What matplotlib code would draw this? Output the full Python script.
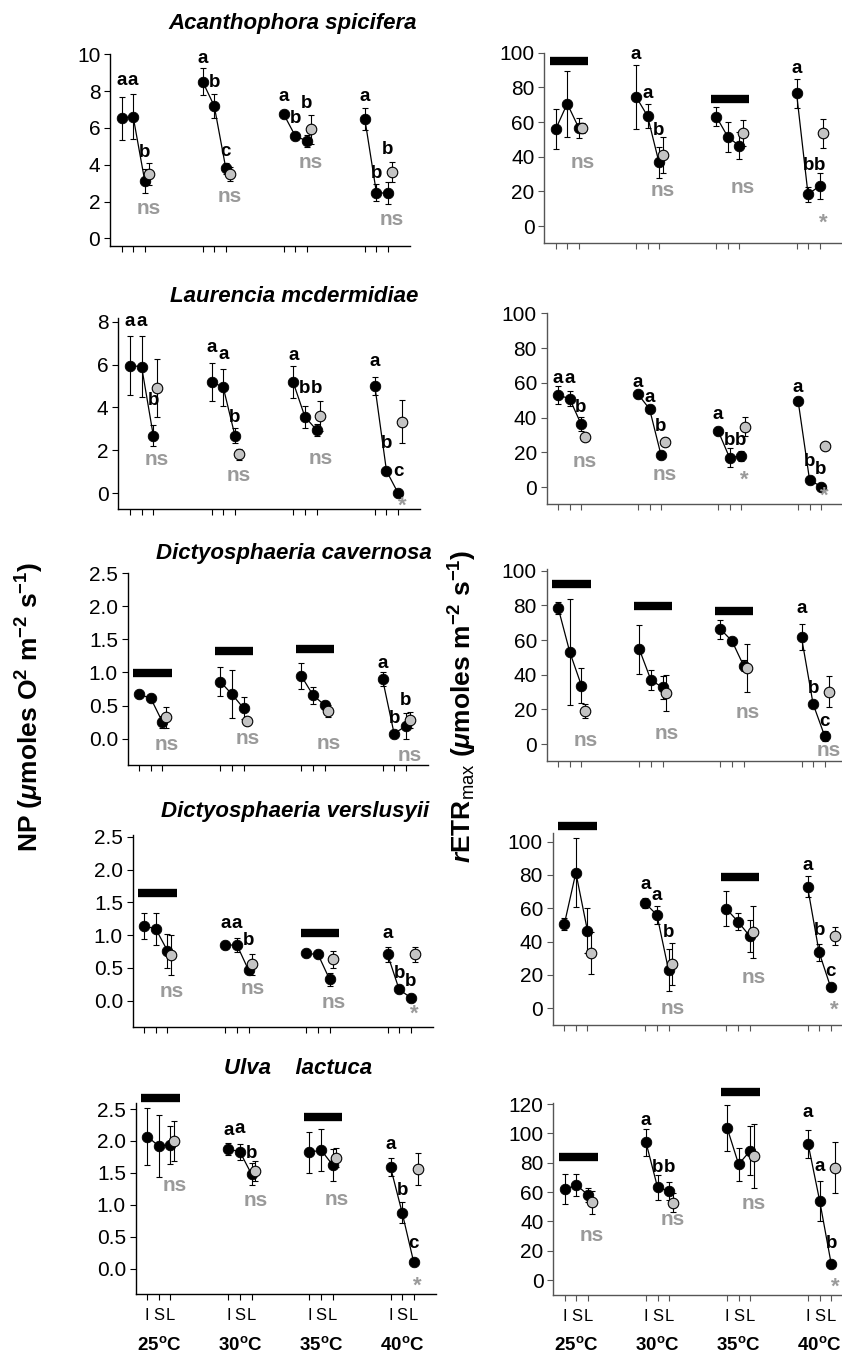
import matplotlib
matplotlib.use('Agg')
import matplotlib.pyplot as plt
import matplotlib.transforms as mtransforms
import numpy as np

plt.rcParams['font.family'] = ['Liberation Sans', 'DejaVu Sans']
plt.rcParams['mathtext.fontset'] = 'custom'
plt.rcParams['mathtext.rm'] = 'Liberation Sans'
plt.rcParams['mathtext.it'] = 'Liberation Sans:italic:bold'
plt.rcParams['mathtext.bf'] = 'Liberation Sans:bold'

# ---------------- data ----------------
temperatures = ['25', '30', '35', '40']
levels = ['I', 'S', 'L']
species = ['Acanthophora spicifera', 'Laurencia mcdermidiae', 'Dictyosphaeria cavernosa',
           'Dictyosphaeria verslusyii', 'Ulva    lactuca']

# Acanthophora spicifera
AS_np_mean = [[6.52, 6.61, 3.12], [8.51, 7.19, 3.80], [6.74, 5.56, 5.29], [6.49, 2.48, 2.45]]
AS_np_err = [[1.18, 1.22, 0.67], [0.73, 0.63, 0.30], [0.10, 0.10, 0.35], [0.60, 0.45, 0.60]]
AS_np_gray = [3.48, 3.50, 5.92, 3.62]
AS_np_gray_err = [0.60, 0.40, 0.78, 0.55]
AS_np_letters = [['a', 'a', 'b'], ['a', 'b', 'c'], ['a', 'b', 'b'], ['a', 'b', 'b']]
AS_np_letter_y = [[8.6, 8.6, 4.65], [9.78, 8.46, 4.71], [7.70, 6.52, 7.30], [7.70, 3.53, 4.80]]
AS_np_sig = ['ns', 'ns', 'ns', 'ns']
AS_np_sig_y = [1.63, 2.26, 4.13, 1.03]
AS_np_bar_groups = []
AS_np_bar_y = []

AS_etr_mean = [[56.0, 70.6, 56.7], [74.6, 63.5, 36.7], [63.1, 51.5, 46.3], [76.5, 18.3, 23.1]]
AS_etr_err = [[11.4, 19.0, 5.8], [18.5, 7.0, 9.0], [5.3, 8.6, 7.8], [8.3, 4.5, 7.5]]
AS_etr_gray = [56.7, 40.8, 53.8, 53.5]
AS_etr_gray_err = [3.0, 10.4, 7.5, 8.5]
AS_etr_letters = [['', '', ''], ['a', 'a', 'b'], ['', '', ''], ['a', 'b', 'b']]
AS_etr_letter_y = [[0, 0, 0], [99.2, 76.5, 55.4], [0, 0, 0], [91.0, 35.2, 35.2]]
AS_etr_sig = ['ns', 'ns', 'ns', '*']
AS_etr_sig_y = [36.7, 20.4, 22.1, 1.9]
AS_etr_bar_groups = [0, 2]
AS_etr_bar_y = [95.2, 73.4]

# Laurencia mcdermidiae
LM_np_mean = [[5.95, 5.90, 2.69], [5.20, 4.94, 2.69], [5.17, 3.57, 2.95], [5.00, 1.04, 0.00]]
LM_np_err = [[1.36, 1.41, 0.49], [0.88, 0.87, 0.34], [0.75, 0.52, 0.30], [0.40, 0.05, 0.05]]
LM_np_gray = [4.92, 1.82, 3.60, 3.34]
LM_np_gray_err = [1.36, 0.25, 0.70, 1.00]
LM_np_letters = [['a', 'a', 'b'], ['a', 'a', 'b'], ['a', 'b', 'b'], ['a', 'b', 'c']]
LM_np_letter_y = [[8.0, 8.0, 4.32], [6.80, 6.49, 3.52], [6.44, 4.89, 4.89], [6.13, 2.30, 1.01]]
LM_np_sig = ['ns', 'ns', 'ns', '*']
LM_np_sig_y = [1.58, 0.81, 1.63, -0.62]
LM_np_bar_groups = []
LM_np_bar_y = []

LM_etr_mean = [[52.9, 51.0, 36.4], [53.4, 45.0, 18.6], [32.4, 17.0, 18.0], [49.6, 4.2, 0.4]]
LM_etr_err = [[5.1, 4.5, 3.8], [2.0, 2.0, 2.0], [2.0, 5.5, 3.0], [2.0, 2.0, 1.0]]
LM_etr_gray = [29.1, 26.2, 34.9, 23.9]
LM_etr_gray_err = [2.0, 2.0, 5.2, 2.0]
LM_etr_letters = [['a', 'a', 'b'], ['a', 'a', 'b'], ['a', 'b', 'b'], ['a', 'b', 'b']]
LM_etr_letter_y = [[62.6, 62.6, 46.0], [60.3, 51.7, 34.9], [42.1, 26.6, 26.6], [57.5, 14.8, 10.0]]
LM_etr_sig = ['ns', 'ns', '*', '*']
LM_etr_sig_y = [14.8, 7.1, 3.8, -5.0]
LM_etr_bar_groups = []
LM_etr_bar_y = []

# Dictyosphaeria cavernosa
DC_np_mean = [[0.672, 0.606, 0.25], [0.86, 0.67, 0.46], [0.944, 0.657, 0.505], [0.90, 0.076, 0.187]]
DC_np_err = [[0.03, 0.03, 0.09], [0.22, 0.36, 0.17], [0.20, 0.13, 0.06], [0.10, 0.02, 0.20]]
DC_np_gray = [0.32, 0.26, 0.414, 0.278]
DC_np_gray_err = [0.16, 0.02, 0.09, 0.12]
DC_np_letters = [['', '', ''], ['', '', ''], ['', '', ''], ['a', 'b', 'b']]
DC_np_letter_y = [[0, 0, 0], [0, 0, 0], [0, 0, 0], [1.13, 0.31, 0.57]]
DC_np_sig = ['ns', 'ns', 'ns', 'ns']
DC_np_sig_y = [-0.09, 0.0, -0.08, -0.25]
DC_np_bar_groups = [0, 1, 2]
DC_np_bar_y = [0.99, 1.33, 1.36]

DC_etr_mean = [[78.3, 52.9, 33.7], [54.6, 36.9, 32.7], [66.3, 59.4, 45.2], [61.5, 23.1, 4.6]]
DC_etr_err = [[3.5, 30.6, 9.9], [14.0, 6.0, 6.6], [5.5, 2.0, 3.0], [7.5, 2.0, 3.0]]
DC_etr_gray = [19.2, 29.6, 44.0, 30.2]
DC_etr_gray_err = [4.0, 10.4, 14.0, 9.0]
DC_etr_letters = [['', '', ''], ['', '', ''], ['', '', ''], ['a', 'b', 'c']]
DC_etr_letter_y = [[0, 0, 0], [0, 0, 0], [0, 0, 0], [78.3, 32.1, 12.9]]
DC_etr_sig = ['ns', 'ns', 'ns', 'ns']
DC_etr_sig_y = [2.3, 6.2, 18.3, -3.5]
DC_etr_bar_groups = [0, 1, 2]
DC_etr_bar_y = [92.1, 79.8, 76.9]

# Dictyosphaeria verslusyii
DV_np_mean = [[1.143, 1.092, 0.762], [0.849, 0.849, 0.467], [0.72, 0.706, 0.325], [0.706, 0.173, 0.046]]
DV_np_err = [[0.20, 0.24, 0.26], [0.03, 0.10, 0.05], [0.02, 0.02, 0.10], [0.12, 0.02, 0.02]]
DV_np_gray = [0.696, 0.559, 0.63, 0.706]
DV_np_gray_err = [0.30, 0.16, 0.13, 0.12]
DV_np_letters = [['', '', ''], ['a', 'a', 'b'], ['', '', ''], ['a', 'b', 'b']]
DV_np_letter_y = [[0, 0, 0], [1.17, 1.17, 0.92], [0, 0, 0], [1.03, 0.42, 0.29]]
DV_np_sig = ['ns', 'ns', 'ns', '*']
DV_np_sig_y = [0.14, 0.19, -0.03, -0.20]
DV_np_bar_groups = [0, 2]
DV_np_bar_y = [1.636, 1.026]

DV_etr_mean = [[50.4, 81.4, 46.6], [63.0, 56.0, 23.0], [59.6, 52.0, 43.4], [73.0, 33.6, 12.6]]
DV_etr_err = [[3.6, 20.5, 13.4], [3.0, 5.4, 12.6], [10.5, 5.0, 9.5], [6.4, 5.0, 1.0]]
DV_etr_gray = [33.0, 26.4, 46.0, 43.4]
DV_etr_gray_err = [12.6, 12.6, 15.6, 5.5]
DV_etr_letters = [['', '', ''], ['a', 'a', 'b'], ['', '', ''], ['a', 'b', 'c']]
DV_etr_letter_y = [[0, 0, 0], [74.4, 67.4, 45.4], [0, 0, 0], [85.4, 46.4, 22.0]]
DV_etr_sig = ['', 'ns', 'ns', '*']
DV_etr_sig_y = [0, 0.0, 18.4, -1.0]
DV_etr_bar_groups = [0, 2]
DV_etr_bar_y = [109.4, 78.6]

# Ulva lactuca
UL_np_mean = [[2.07, 1.92, 1.94], [1.875, 1.83, 1.48], [1.82, 1.86, 1.625], [1.59, 0.88, 0.104]]
UL_np_err = [[0.45, 0.49, 0.30], [0.10, 0.12, 0.17], [0.32, 0.33, 0.25], [0.14, 0.16, 0.03]]
UL_np_gray = [2.0, 1.53, 1.74, 1.56]
UL_np_gray_err = [0.32, 0.15, 0.15, 0.245]
UL_np_letters = [['', '', ''], ['a', 'a', 'b'], ['', '', ''], ['a', 'b', 'c']]
UL_np_letter_y = [[0, 0, 0], [2.17, 2.20, 1.81], [0, 0, 0], [1.94, 1.23, 0.40]]
UL_np_sig = ['ns', 'ns', 'ns', '*']
UL_np_sig_y = [1.30, 1.07, 1.08, -0.28]
UL_np_bar_groups = [0, 2]
UL_np_bar_y = [2.67, 2.37]

UL_etr_mean = [[61.8, 64.8, 58.0], [93.9, 63.2, 60.7], [103.9, 78.9, 88.2], [92.7, 53.9, 10.7]]
UL_etr_err = [[10.2, 7.2, 5.0], [9.3, 8.5, 6.4], [15.6, 11.4, 16.5], [9.5, 13.6, 2.0]]
UL_etr_gray = [53.0, 52.7, 84.5, 76.6]
UL_etr_gray_err = [8.0, 6.6, 21.7, 17.6]
UL_etr_letters = [['', '', ''], ['a', 'b', 'b'], ['', '', ''], ['a', 'a', 'b']]
UL_etr_letter_y = [[0, 0, 0], [108.6, 76.8, 76.8], [0, 0, 0], [114.0, 77.7, 25.0]]
UL_etr_sig = ['ns', 'ns', 'ns', '*']
UL_etr_sig_y = [30.7, 41.4, 52.3, -5.0]
UL_etr_bar_groups = [0, 2]
UL_etr_bar_y = [83.6, 128.0]

# ---------------- layout (pixels) ----------------
W, H = 842, 1356
fig = plt.figure(figsize=(W / 100, H / 100), dpi=100)

GROUP_STEP = 7
GRAY_OFF = 0.33
XLIM = (-1.0, 24.9)
GRAY_FILL = '#c4c4c4'
SIG_COLOR = '#9a9a9a'

left_boxes = [
    (110.0, 300, 54.3, 245.7, (-0.4, 10.0), np.arange(0, 11, 2), '{:.0f}'),
    (118.3, 302, 318.0, 509.3, (-0.75, 8.17), np.arange(0, 9, 2), '{:.0f}'),
    (127.7, 300, 573.3, 765.0, (-0.4, 2.5), np.arange(0, 2.51, 0.5), '{:.1f}'),
    (132.7, 300, 835.0, 1027.3, (-0.405, 2.526), np.arange(0, 2.51, 0.5), '{:.1f}'),
    (135.7, 300, 1103.3, 1294.3, (-0.4, 2.59), np.arange(0, 2.51, 0.5), '{:.1f}'),
]
right_boxes = [
    (544.3, 297, 52.7, 242.7, (-9.6, 100), np.arange(0, 101, 20), '{:.0f}'),
    (546.7, 296, 313.3, 504.3, (-9.8, 100), np.arange(0, 101, 20), '{:.0f}'),
    (546.7, 300, 569.3, 760.7, (-9.6, 100.8), np.arange(0, 101, 20), '{:.0f}'),
    (552.7, 300, 833.3, 1025.0, (-10, 105), np.arange(0, 101, 20), '{:.0f}'),
    (553.3, 300, 1103.0, 1295.0, (-10.2, 120.7), np.arange(0, 121, 20), '{:.0f}'),
]

np_sets = [
    (AS_np_mean, AS_np_err, AS_np_gray, AS_np_gray_err, AS_np_letters, AS_np_letter_y, AS_np_sig, AS_np_sig_y, AS_np_bar_groups, AS_np_bar_y),
    (LM_np_mean, LM_np_err, LM_np_gray, LM_np_gray_err, LM_np_letters, LM_np_letter_y, LM_np_sig, LM_np_sig_y, LM_np_bar_groups, LM_np_bar_y),
    (DC_np_mean, DC_np_err, DC_np_gray, DC_np_gray_err, DC_np_letters, DC_np_letter_y, DC_np_sig, DC_np_sig_y, DC_np_bar_groups, DC_np_bar_y),
    (DV_np_mean, DV_np_err, DV_np_gray, DV_np_gray_err, DV_np_letters, DV_np_letter_y, DV_np_sig, DV_np_sig_y, DV_np_bar_groups, DV_np_bar_y),
    (UL_np_mean, UL_np_err, UL_np_gray, UL_np_gray_err, UL_np_letters, UL_np_letter_y, UL_np_sig, UL_np_sig_y, UL_np_bar_groups, UL_np_bar_y),
]
etr_sets = [
    (AS_etr_mean, AS_etr_err, AS_etr_gray, AS_etr_gray_err, AS_etr_letters, AS_etr_letter_y, AS_etr_sig, AS_etr_sig_y, AS_etr_bar_groups, AS_etr_bar_y),
    (LM_etr_mean, LM_etr_err, LM_etr_gray, LM_etr_gray_err, LM_etr_letters, LM_etr_letter_y, LM_etr_sig, LM_etr_sig_y, LM_etr_bar_groups, LM_etr_bar_y),
    (DC_etr_mean, DC_etr_err, DC_etr_gray, DC_etr_gray_err, DC_etr_letters, DC_etr_letter_y, DC_etr_sig, DC_etr_sig_y, DC_etr_bar_groups, DC_etr_bar_y),
    (DV_etr_mean, DV_etr_err, DV_etr_gray, DV_etr_gray_err, DV_etr_letters, DV_etr_letter_y, DV_etr_sig, DV_etr_sig_y, DV_etr_bar_groups, DV_etr_bar_y),
    (UL_etr_mean, UL_etr_err, UL_etr_gray, UL_etr_gray_err, UL_etr_letters, UL_etr_letter_y, UL_etr_sig, UL_etr_sig_y, UL_etr_bar_groups, UL_etr_bar_y),
]


def add_axes_px(x0, w, ytop, ybot):
    return fig.add_axes([x0 / W, 1 - ybot / H, w / W, (ybot - ytop) / H])


def draw_panel(ax, data, box, spine_color, bottom_row):
    mean, err, gray, gray_err, letters, letter_y, sig, sig_y, bar_groups, bar_y = data
    x0, w, ytop, ybot, ylim, yticks, fmt = box
    for g in range(4):
        xs = g * GROUP_STEP + np.arange(3)
        ax.errorbar(xs, mean[g], yerr=err[g], fmt='none', ecolor='black',
                    elinewidth=0.8, capsize=2.3, capthick=0.8, zorder=1)
        ax.plot(xs, mean[g], color='black', lw=0.9, zorder=2)
        ax.plot(xs, mean[g], 'o', ms=7.6, mfc='black', mec='black', mew=0.6, zorder=3)
        xg = g * GROUP_STEP + 2 + GRAY_OFF
        ax.errorbar([xg], [gray[g]], yerr=[gray_err[g]], fmt='none', ecolor='black',
                    elinewidth=0.8, capsize=2.3, capthick=0.8, zorder=3.5)
        ax.plot([xg], [gray[g]], 'o', ms=7.6, mfc=GRAY_FILL, mec='black', mew=0.8, zorder=4)
        for k in range(3):
            if letters[g][k]:
                ax.text(xs[k], letter_y[g][k], letters[g][k], ha='center', va='center',
                        fontsize=13.5, fontweight='bold', color='black', zorder=5)
        if sig[g]:
            ax.text(xg, sig_y[g], sig[g], ha='center', va='center',
                    fontsize=15 if sig[g] == 'ns' else 16, fontweight='bold', color=SIG_COLOR, zorder=5)
    for g, yb in zip(bar_groups, bar_y):
        ax.plot([g * GROUP_STEP - 0.5, g * GROUP_STEP + 2.85], [yb, yb], color='black',
                lw=6.0, solid_capstyle='butt', clip_on=False, zorder=5)

    ax.set_xlim(*XLIM)
    ax.set_ylim(*ylim)
    ax.set_yticks(yticks)
    ax.set_yticklabels([fmt.format(v) for v in yticks])
    xt = [g * GROUP_STEP + k for g in range(4) for k in range(3)]
    ax.set_xticks(xt)
    if bottom_row:
        ax.set_xticklabels(levels * 4, fontsize=12)
    else:
        ax.set_xticklabels([])
    for s in ['top', 'right']:
        ax.spines[s].set_visible(False)
    for s in ['left', 'bottom']:
        ax.spines[s].set_color(spine_color)
        ax.spines[s].set_linewidth(1.0)
    ax.tick_params(axis='both', direction='out', length=4, width=0.8, colors=spine_color,
                   labelcolor='black')
    ax.tick_params(axis='y', labelsize=15, pad=3)
    ax.tick_params(axis='x', pad=6)
    ax.patch.set_alpha(0)
    if bottom_row:
        trans = mtransforms.blended_transform_factory(ax.transData, fig.transFigure)
        for g, t in enumerate(temperatures):
            ax.text(g * GROUP_STEP + 1.0, 1 - 1345 / H, t + r'$^{\mathbf{o}}$C', transform=trans,
                    ha='center', va='center', fontsize=13.5, fontweight='bold')


for i in range(5):
    axl = add_axes_px(*left_boxes[i][:4])
    draw_panel(axl, np_sets[i], left_boxes[i], 'black', i == 4)
    axr = add_axes_px(*right_boxes[i][:4])
    draw_panel(axr, etr_sets[i], right_boxes[i], '#555555', i == 4)

# titles
title_pos = [(293, 23), (294, 296), (294, 553), (295, 812), (298, 1068)]
for name, (tx, ty) in zip(species, title_pos):
    fig.text(tx / W, 1 - ty / H, name, ha='center', va='center', fontsize=16,
             fontweight='bold', fontstyle='italic')

# y labels
fig.text(30 / W, 1 - 707 / H,
         r'NP ($\mathit{\mu}$moles O$^{\mathbf{2}}$ m$^{\mathbf{-2}}$ s$^{\mathbf{-1}}$)',
         rotation=90, ha='center', va='center', fontsize=19, fontweight='bold')
fig.text(463 / W, 1 - 706 / H,
         r'$\mathit{r}$ET$\mathbf{R}_{\mathrm{max}}$ ($\mathit{\mu}$moles m$^{\mathbf{-2}}$ s$^{\mathbf{-1}}$)',
         rotation=90, ha='center', va='center', fontsize=19, fontweight='bold')

fig.savefig('out.png', dpi=100)
